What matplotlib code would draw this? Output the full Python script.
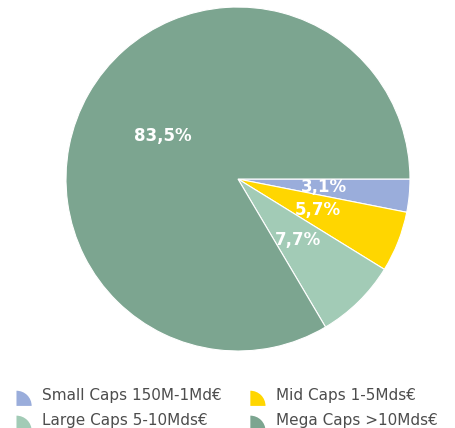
import matplotlib
matplotlib.use("Agg")
import matplotlib.pyplot as plt
from matplotlib.patches import Wedge, Patch
from matplotlib.legend_handler import HandlerPatch
import numpy as np

categories = ["Small Caps 150M-1Md€", "Mid Caps 1-5Mds€", "Large Caps 5-10Mds€", "Mega Caps >10Mds€"]
values = [3.1, 5.7, 7.7, 83.5]
labels = ["3,1%", "5,7%", "7,7%", "83,5%"]
colors = ["#9AADDB", "#FFD600", "#A2CBB6", "#7CA590"]

plt.rcParams['font.family'] = ['DejaVu Sans']

fig = plt.figure(figsize=(4.56, 4.28), dpi=100)
ax = fig.add_axes([0.1447, 0.1799, 0.7544, 0.8037])
wedges, _ = ax.pie(values, colors=colors, startangle=0, counterclock=False,
                   wedgeprops=dict(edgecolor="white", linewidth=0.8))
ax.set_aspect("equal")
ax.set_xlim(-1, 1)
ax.set_ylim(-1, 1)

total = sum(values)
start = 0.0
for v, lab in zip(values, labels):
    ang = np.deg2rad(start - v / total * 360 / 2)
    ax.text(0.5 * np.cos(ang), 0.5 * np.sin(ang), lab, ha="center", va="center",
            color="white", fontsize=12, fontweight="bold")
    start -= v / total * 360


class QuarterHandler(HandlerPatch):
    def create_artists(self, legend, orig_handle, xdescent, ydescent, width, height, fontsize, trans):
        r = min(width, height)
        w = Wedge((-xdescent, -ydescent - 2.5), r, 0, 90,
                  facecolor=orig_handle.get_facecolor(), edgecolor="none", transform=trans)
        return [w]


order = [0, 2, 1, 3]
handles = [Patch(facecolor=colors[i]) for i in order]
leg_labels = [categories[i] for i in order]
leg = fig.legend(handles, leg_labels, loc="lower left", bbox_to_anchor=(0.006, -0.032),
                 ncol=2, frameon=False, fontsize=11, handlelength=1.15, handleheight=1.15,
                 handletextpad=0.55, columnspacing=1.85, labelspacing=0.6,
                 handler_map={Patch: QuarterHandler()})
for t in leg.get_texts():
    t.set_color("#4d4d4d")

fig.savefig("out.png", dpi=100)
